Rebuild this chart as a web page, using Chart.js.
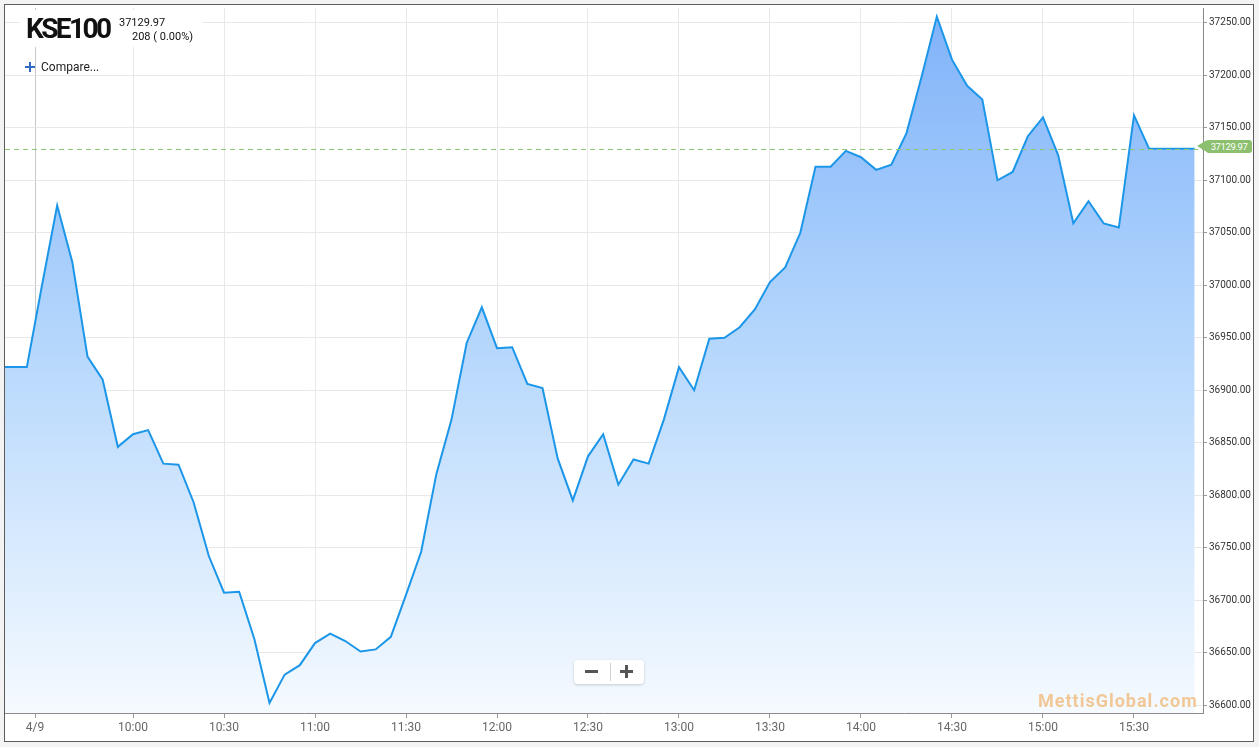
<!DOCTYPE html>
<html><head><meta charset="utf-8">
<script src="https://cdn.jsdelivr.net/npm/chart.js@4.4.1/dist/chart.umd.min.js"></script>
<style>
html,body{margin:0;padding:0;background:#f3f3f3;}
#wrap{position:relative;width:1259px;height:747px;overflow:hidden;font-family:Roboto,"Noto Sans",sans-serif;}
canvas{position:absolute;left:0;top:0;}
.ov{position:absolute;white-space:nowrap;}
.bar{position:absolute;}
</style></head><body>
<div id="wrap">
<canvas id="c" width="1259" height="747"></canvas>
<div class="ov" style="left:20px;top:10px;width:182px;height:37px;background:#fff;"></div>
<div class="ov" style="left:26px;top:15px;font-size:28px;line-height:28px;font-weight:700;letter-spacing:-2.6px;color:#111;">KSE100</div>
<div class="ov" style="left:119px;top:17px;font-size:11px;line-height:11px;color:#111;">37129.97</div>
<div class="ov" style="left:132px;top:31px;font-size:11px;line-height:11px;color:#111;">208 ( 0.00%)</div>
<div class="bar" style="left:25px;top:66px;width:10px;height:2px;background:#2f6bc0;"></div>
<div class="bar" style="left:29px;top:62px;width:2px;height:10px;background:#2f6bc0;"></div>
<div class="ov" style="left:41px;top:61px;font-size:12px;line-height:12px;color:#222;">Compare...</div>
<div class="bar" style="left:574px;top:660px;width:70px;height:24px;background:#fff;border-radius:4px;box-shadow:0 1px 3px rgba(0,0,0,0.18);"></div>
<div class="bar" style="left:585px;top:670px;width:13px;height:3px;background:#555;"></div>
<div class="bar" style="left:610px;top:663px;width:1px;height:18px;background:#d0d0d0;"></div>
<div class="bar" style="left:620px;top:670px;width:13px;height:3px;background:#555;"></div>
<div class="bar" style="left:625px;top:665px;width:3px;height:13px;background:#555;"></div>
<div class="ov" style="left:1038px;top:692px;font-size:18px;line-height:18px;font-weight:700;letter-spacing:1px;color:rgba(240,165,80,0.6);">MettisGlobal.com</div>
<div class="bar" style="left:1197px;top:140px;width:0;height:0;border-top:6.5px solid transparent;border-bottom:6.5px solid transparent;border-right:10px solid #8cc06f;"></div>
<div class="ov" style="left:1206px;top:140px;width:46px;height:13px;background:#8cc06f;border-radius:3px;color:#fff;font-size:9.5px;line-height:13px;letter-spacing:-0.4px;text-align:center;">37129.97</div>
</div>
<script>
const times = [555,565,570,575,580,585,590,595,600,605,610,615,620,625,630,635,640,645,650,655,660,665,670,675,680,685,690,695,700,705,710,715,720,725,730,735,740,745,750,755,760,765,770,775,780,785,790,795,800,805,810,815,820,825,830,835,840,845,850,855,860,865,870,875,880,885,890,895,900,905,910,915,920,925,930,935,940,945,950];
const values = [36922,36922,37000,37076,37022,36932,36910,36846,36858,36862,36830,36829,36793,36742,36707,36708,36663,36602,36629,36638,36659,36668,36661,36651,36653,36665,36705,36746,36820,36872,36945,36979,36940,36941,36906,36902,36835,36795,36837,36858,36810,36834,36830,36872,36922,36900,36949,36950,36960,36977,37003,37017,37050,37113,37113,37128,37122,37110,37115,37145,37199,37256,37215,37190,37177,37100,37108,37142,37160,37124,37059,37080,37059,37055,37162,37129.97,37129.97,37129.97,37129.97];
const xTickValues = [567.7,600,630,660,690,720,750,780,810,840,870,900,930];
const xTickLabels = ['4/9','10:00','10:30','11:00','11:30','12:00','12:30','13:00','13:30','14:00','14:30','15:00','15:30'];
const yTickValues = [36600,36650,36700,36750,36800,36850,36900,36950,37000,37050,37100,37150,37200,37250];
const lastValue = 37129.97;
const xMin = 557.8, xMax = 952.75, yMin = 36592.4, yMax = 37264.2;

const bgPlugin = {
  id:'bg',
  beforeDraw(chart){
    const c = chart.ctx;
    c.save();
    c.fillStyle = '#f3f3f3'; c.fillRect(0,0,1259,747);
    c.fillStyle = '#ffffff'; c.fillRect(4,4,1250,738);
    c.restore();
  },
  afterDraw(chart){
    const c = chart.ctx;
    c.save();
    c.strokeStyle = '#5c5c5c'; c.lineWidth = 1;
    c.strokeRect(4.5,4.5,1249,737);
    c.restore();
  }
};
const dashPlugin = {
  id:'dash',
  afterDatasetsDraw(chart){
    const c = chart.ctx, a = chart.chartArea;
    const y = Math.round(chart.scales.y.getPixelForValue(lastValue)) + 0.5;
    c.save();
    c.strokeStyle = '#8fc778'; c.lineWidth = 1; c.setLineDash([5,4]);
    c.beginPath(); c.moveTo(a.left,y); c.lineTo(a.right,y); c.stroke();
    c.restore();
  }
};

new Chart(document.getElementById('c'), {
  type:'line',
  data:{datasets:[{
    data: times.map((t,i)=>({x:t,y:values[i]})),
    borderColor:'#1b96e8', borderWidth:2, pointRadius:0, tension:0, fill:'start',
    backgroundColor: (ctx)=>{
      const a = ctx.chart.chartArea; if(!a) return 'rgba(150,195,250,0.6)';
      const g = ctx.chart.ctx.createLinearGradient(0,a.top,0,a.bottom);
      g.addColorStop(0,'rgb(128,178,249)');
      g.addColorStop(0.45,'rgb(178,213,252)');
      g.addColorStop(1,'rgb(245,250,255)');
      return g;
    }
  }]},
  options:{
    responsive:false, animation:false,
    layout:{padding:{left:5,top:5,right:0,bottom:0}},
    plugins:{legend:{display:false}, tooltip:{enabled:false}},
    scales:{
      x:{type:'linear', min:xMin, max:xMax,
        afterBuildTicks:(s)=>{s.ticks = xTickValues.map(v=>({value:v}));},
        afterFit:(s)=>{s.height = 34;},
        ticks:{callback:(v,i)=>xTickLabels[i], font:{family:'Roboto',size:12}, color:'#666', padding:3, maxRotation:0, autoSkip:false},
        grid:{color:(c)=> (c.tick && c.tick.value===567.7) ? '#c5c8cc' : '#e8e8e8', tickColor:'#999', tickLength:5},
        border:{color:'#8a8a8a'}
      },
      y:{position:'right', min:yMin, max:yMax,
        afterBuildTicks:(s)=>{s.ticks = yTickValues.map(v=>({value:v}));},
        afterFit:(s)=>{s.width = 56;},
        ticks:{callback:(v)=>Number(v).toFixed(2), font:{family:'Roboto',size:10}, color:'#333', padding:2},
        grid:{color:'#e8e8e8', tickColor:'#999', tickLength:4},
        border:{color:'#8a8a8a'}
      }
    }
  },
  plugins:[bgPlugin, dashPlugin]
});
</script>
</body></html>
